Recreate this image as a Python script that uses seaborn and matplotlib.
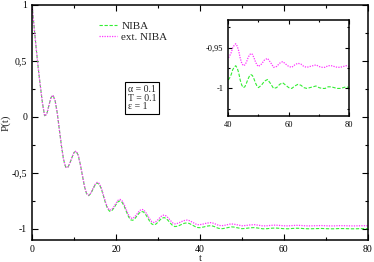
import numpy as np
import matplotlib
matplotlib.use("Agg")
import matplotlib.pyplot as plt
from matplotlib.ticker import MultipleLocator, FuncFormatter
import seaborn as sns

# time grid: 0.5 steps up to 50, then 1 steps to 80
t = np.concatenate([np.arange(0, 50, 0.5), np.arange(50, 81, 1.0)])

# NIBA curve
p_niba = [
    1.000, 0.800, 0.610, 0.430, 0.270, 0.120, 0.010, 0.023, 0.098, 0.172,
    0.194, 0.145, 0.037, -0.107, -0.256, -0.379, -0.448, -0.453, -0.417, -0.363,
    -0.318, -0.306, -0.343, -0.424, -0.526, -0.623, -0.688, -0.704, -0.685, -0.648,
    -0.610, -0.591, -0.601, -0.642, -0.704, -0.769, -0.821, -0.844, -0.838, -0.815,
    -0.783, -0.758, -0.750, -0.766, -0.802, -0.849, -0.893, -0.920, -0.924, -0.909,
    -0.885, -0.861, -0.846, -0.848, -0.868, -0.898, -0.931, -0.956, -0.965, -0.958,
    -0.941, -0.920, -0.904, -0.900, -0.909, -0.929, -0.951, -0.971, -0.980, -0.978,
    -0.972, -0.963, -0.954, -0.949, -0.948, -0.953, -0.963, -0.973, -0.983, -0.989,
    -0.990, -0.987, -0.983, -0.977, -0.974, -0.972, -0.975, -0.981, -0.990, -0.996,
    -0.999, -0.998, -0.994, -0.989, -0.985, -0.983, -0.984, -0.988, -0.993, -0.997,
    -0.999, -0.996, -0.991, -0.989, -0.994, -1.000, -0.999, -0.995, -0.993, -0.996,
    -0.999, -1.000, -0.997, -0.995, -0.996, -0.999, -1.000, -0.999, -0.998, -0.997,
    -0.999, -1.000, -1.000, -0.998, -0.998, -0.999, -1.000, -1.000, -0.999, -0.998,
    -0.999,
]

# ext. NIBA curve
p_ext = [
    1.000, 0.800, 0.610, 0.430, 0.270, 0.120, 0.010, 0.023, 0.098, 0.172,
    0.194, 0.145, 0.037, -0.107, -0.256, -0.379, -0.448, -0.453, -0.417, -0.363,
    -0.318, -0.305, -0.341, -0.422, -0.523, -0.620, -0.684, -0.700, -0.680, -0.643,
    -0.604, -0.585, -0.594, -0.634, -0.696, -0.760, -0.811, -0.834, -0.827, -0.803,
    -0.771, -0.745, -0.737, -0.752, -0.787, -0.834, -0.877, -0.904, -0.907, -0.892,
    -0.867, -0.843, -0.827, -0.829, -0.848, -0.878, -0.910, -0.935, -0.944, -0.936,
    -0.919, -0.898, -0.881, -0.877, -0.886, -0.905, -0.927, -0.947, -0.956, -0.953,
    -0.947, -0.938, -0.929, -0.924, -0.922, -0.927, -0.937, -0.947, -0.957, -0.963,
    -0.963, -0.960, -0.956, -0.950, -0.947, -0.945, -0.948, -0.954, -0.963, -0.969,
    -0.972, -0.971, -0.968, -0.963, -0.959, -0.957, -0.958, -0.962, -0.967, -0.971,
    -0.973, -0.970, -0.965, -0.963, -0.968, -0.974, -0.973, -0.969, -0.967, -0.970,
    -0.973, -0.974, -0.971, -0.969, -0.970, -0.973, -0.974, -0.973, -0.972, -0.971,
    -0.973, -0.974, -0.974, -0.972, -0.972, -0.973, -0.974, -0.974, -0.973, -0.972,
    -0.973,
]

params_text = "α = 0.1\nT = 0.1\nε = 1"

GREEN = "#33ee33"
MAGENTA = "#ff33ff"
DASH = (0, (3, 1.5))
DOT = (0, (1, 1))

sns.set_style("ticks")
plt.rcParams["font.family"] = ["Liberation Serif", "DejaVu Serif"]


def comma_fmt(v, pos):
    s = f"{v:g}"
    return s.replace(".", ",")


def style_axes(ax, size, major=4, minor=2):
    ax.tick_params(which="both", direction="in", top=True, right=True,
                   labelsize=size, width=0.8, colors="black")
    ax.tick_params(which="major", length=major)
    ax.tick_params(which="minor", length=minor)
    for sp in ax.spines.values():
        sp.set_linewidth(1.1)
        sp.set_color("black")
    ax.xaxis.set_major_formatter(FuncFormatter(comma_fmt))
    ax.yaxis.set_major_formatter(FuncFormatter(comma_fmt))


fig = plt.figure(figsize=(3.74, 2.62), dpi=100)
ax = fig.add_axes([0.0856, 0.084, 0.898, 0.897])

sns.lineplot(x=t, y=p_niba, ax=ax, color=GREEN, lw=0.8, linestyle=DASH,
             label="NIBA")
sns.lineplot(x=t, y=p_ext, ax=ax, color=MAGENTA, lw=0.9, linestyle=DOT,
             label="ext. NIBA")

ax.set_xlim(0, 80)
ax.set_ylim(-1.1, 1.0)
ax.xaxis.set_major_locator(MultipleLocator(20))
ax.xaxis.set_minor_locator(MultipleLocator(10))
ax.yaxis.set_major_locator(MultipleLocator(0.5))
ax.yaxis.set_minor_locator(MultipleLocator(0.25))
style_axes(ax, 7)
ax.set_xlabel("t", fontsize=8, labelpad=0)
ax.set_ylabel("P(t)", fontsize=8, labelpad=1)

ax.legend(loc="upper left", bbox_to_anchor=(0.2, 0.93), frameon=False,
          fontsize=8, handlelength=1.6, handletextpad=0.4,
          borderaxespad=0, borderpad=0, labelspacing=0.1)

ax.text(0.285, 0.66, params_text, transform=ax.transAxes, fontsize=7,
        va="top", ha="left", linespacing=0.95,
        bbox=dict(boxstyle="square,pad=0.3", fc="white", ec="black", lw=0.8))

# inset with the late-time behaviour
ins = fig.add_axes([0.610, 0.557, 0.324, 0.366])
sns.lineplot(x=t, y=p_niba, ax=ins, color=GREEN, lw=0.8, linestyle=DASH,
             legend=False)
sns.lineplot(x=t, y=p_ext, ax=ins, color=MAGENTA, lw=0.9, linestyle=DOT,
             legend=False)
ins.set_xlim(40, 80)
ins.set_ylim(-1.034, -0.916)
ins.xaxis.set_major_locator(MultipleLocator(20))
ins.xaxis.set_minor_locator(MultipleLocator(10))
ins.yaxis.set_major_locator(MultipleLocator(0.05))
ins.yaxis.set_minor_locator(MultipleLocator(0.025))
style_axes(ins, 6, major=3, minor=1.5)
ins.set_xlabel("")
ins.set_ylabel("")

fig.savefig("out.png", dpi=100)
